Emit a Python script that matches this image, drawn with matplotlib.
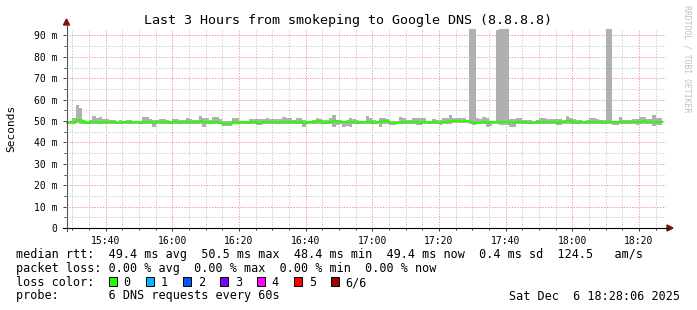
import numpy as np
import matplotlib
matplotlib.use("Agg")
import matplotlib.pyplot as plt
from matplotlib.patches import Rectangle, Polygon
from matplotlib.lines import Line2D

plt.rcParams['font.family'] = ['DejaVu Sans Mono']

W, H = 697, 310

# one value per minute, minute 0 = 15:28
median_ms = [
    49.4, 49.4, 49.6, 50.4, 50.3, 49.5, 49.3, 49.4, 49.5, 49.4,
    49.3, 49.4, 49.4, 49.5, 49.4, 49.3, 49.3, 49.4, 49.4, 49.6,
    49.5, 49.4, 49.3, 49.5, 49.5, 49.4, 49.3, 49.4, 49.4, 49.5,
    49.4, 49.3, 49.4, 49.4, 49.3, 49.4, 49.5, 49.6, 49.4, 49.5,
    49.8, 49.7, 49.4, 49.3, 49.4, 49.4, 49.3, 48.7, 48.6, 48.8,
    49.4, 49.3, 49.4, 49.4, 49.3, 49.4, 49.5, 49.3, 49.2, 49.4,
    49.5, 49.4, 49.5, 49.3, 49.4, 49.4, 49.6, 49.5, 49.4, 49.3,
    49.4, 49.3, 49.4, 49.4, 49.5, 50.2, 49.8, 49.3, 49.2, 49.4,
    50.1, 50.2, 49.4, 49.4, 49.5, 49.4, 49.4, 49.3, 49.5, 49.4,
    49.5, 49.4, 49.3, 49.4, 49.6, 50.2, 49.9, 49.0, 48.9, 49.0,
    49.3, 49.4, 49.5, 49.4, 49.6, 49.4, 49.3, 49.5, 49.4, 49.3,
    49.4, 49.3, 49.3, 49.5, 49.6, 50.0, 50.1, 50.1, 50.0, 50.0,
    50.0, 49.4, 49.3, 49.2, 49.3, 49.4, 49.3, 49.4, 49.5, 49.4,
    49.5, 49.4, 49.5, 49.3, 49.2, 49.4, 49.6, 49.4, 49.3, 49.2,
    49.3, 49.4, 49.6, 49.7, 49.5, 49.4, 49.4, 49.3, 49.4, 49.5,
    50.2, 49.9, 49.4, 49.3, 49.4, 49.4, 49.5, 49.6, 49.5, 49.4,
    49.4, 49.3, 49.4, 49.5, 49.4, 49.4, 49.5, 49.7, 49.5, 49.4,
    49.6, 49.4, 49.5, 49.8, 49.5, 49.6, 49.4, 49.5, 49.4,
]
high_ms = [
    50.2, 50.1, 51.2, 57.4, 56.0, 50.3, 50.1, 50.5, 52.2, 51.4,
    51.9, 51.0, 51.0, 50.5, 50.5, 50.2, 50.3, 50.2, 50.3, 50.5,
    50.2, 50.1, 50.2, 51.9, 51.9, 50.9, 50.4, 50.3, 51.1, 50.9,
    50.3, 50.2, 50.9, 50.9, 50.5, 50.3, 51.2, 51.0, 50.4, 50.6,
    52.3, 51.2, 51.2, 50.4, 51.9, 51.9, 50.9, 49.8, 50.0, 50.1,
    51.4, 51.4, 50.2, 50.1, 50.2, 50.9, 50.9, 50.9, 50.9, 50.9,
    51.2, 50.9, 50.9, 50.9, 50.9, 51.9, 51.2, 51.2, 50.3, 51.5,
    51.5, 50.3, 50.1, 50.2, 50.4, 51.5, 50.9, 50.3, 50.4, 51.2,
    53.0, 50.6, 50.3, 50.2, 50.3, 51.5, 51.0, 50.4, 50.2, 50.1,
    52.3, 51.2, 50.3, 50.2, 51.2, 51.5, 50.9, 50.0, 49.9, 50.2,
    51.9, 51.5, 50.4, 50.3, 51.2, 51.2, 51.2, 51.2, 50.1, 50.2,
    50.9, 50.6, 50.3, 51.5, 51.5, 52.7, 51.5, 51.5, 51.5, 51.2,
    50.5, 93.5, 93.5, 51.2, 50.8, 51.9, 51.2, 50.2, 50.1, 92.7,
    93.5, 93.5, 93.5, 50.9, 50.9, 51.2, 51.2, 50.7, 50.7, 50.3,
    50.2, 50.4, 51.2, 51.2, 50.9, 50.9, 50.9, 50.9, 50.9, 50.3,
    52.3, 51.5, 50.9, 50.4, 50.3, 50.2, 50.3, 51.2, 51.2, 50.9,
    50.5, 50.4, 93.5, 93.5, 50.1, 50.1, 51.9, 50.7, 50.7, 50.7,
    50.9, 50.9, 51.9, 51.9, 50.9, 50.9, 52.7, 51.5, 51.5,
]
low_ms = [
    48.8, 48.7, 48.6, 48.9, 48.8, 48.5, 48.6, 48.7, 48.7, 48.6,
    48.5, 48.7, 48.6, 48.7, 48.8, 48.7, 48.7, 48.6, 48.8, 48.7,
    48.6, 48.8, 48.7, 48.6, 48.5, 48.4, 47.3, 48.6, 48.5, 48.4,
    48.7, 48.6, 48.6, 48.5, 48.7, 48.8, 48.6, 48.6, 48.5, 48.4,
    48.6, 47.3, 48.4, 48.7, 48.6, 48.6, 48.5, 47.9, 47.6, 47.8,
    48.5, 48.6, 48.6, 48.7, 48.7, 48.6, 48.5, 48.2, 48.1, 48.4,
    48.6, 48.5, 48.6, 48.6, 48.7, 48.5, 48.6, 48.5, 48.7, 48.4,
    48.5, 47.3, 48.6, 48.7, 48.6, 48.4, 48.5, 48.6, 48.5, 48.6,
    47.2, 48.3, 48.6, 47.3, 47.5, 47.3, 48.5, 48.7, 48.6, 48.6,
    48.5, 48.6, 48.7, 48.6, 47.3, 48.5, 48.5, 48.3, 48.2, 48.4,
    48.6, 48.5, 48.7, 48.6, 48.5, 48.1, 48.1, 48.6, 48.6, 48.7,
    48.6, 48.5, 48.1, 48.6, 48.5, 48.7, 48.9, 48.9, 48.9, 48.9,
    48.9, 48.7, 48.3, 48.5, 48.4, 48.6, 47.3, 47.5, 48.6, 48.4,
    48.3, 48.2, 48.0, 47.3, 47.3, 48.6, 48.5, 48.8, 48.7, 48.7,
    48.6, 48.7, 48.8, 48.5, 48.6, 48.6, 48.7, 48.3, 48.3, 48.7,
    48.6, 48.7, 48.6, 48.7, 48.6, 48.7, 48.6, 48.6, 48.7, 48.6,
    48.7, 48.8, 48.5, 48.4, 48.1, 48.1, 48.6, 48.6, 48.7, 48.6,
    48.5, 48.3, 48.6, 48.7, 48.5, 48.5, 47.6, 48.1, 48.1,
]

time_ticks = [12, 32, 52, 72, 92, 112, 132, 152, 172]
time_labels = ["15:40", "16:00", "16:20", "16:40", "17:00",
               "17:20", "17:40", "18:00", "18:20"]
y_ticks = [0, 10, 20, 30, 40, 50, 60, 70, 80, 90]
y_labels = ["0", "10 m", "20 m", "30 m", "40 m", "50 m",
            "60 m", "70 m", "80 m", "90 m"]

loss_labels = ["0", "1", "2", "3", "4", "5", "6/6"]
loss_colors = ["#26ff00", "#00b8ff", "#0059ff", "#7e00ff",
               "#ff00ff", "#ff0000", "#a10000"]


def fx(x):
    return x / W


def fy(y):
    return 1 - y / H


fig = plt.figure(figsize=(W / 100, H / 100), dpi=100)
fig.patch.set_facecolor("white")
ax = fig.add_axes([fx(66), fy(228), fx(666) - fx(66), fy(29) - fy(228)])
ax.set_facecolor("white")

n = len(median_ms)
xs = np.arange(n + 1)
med = np.append(median_ms, median_ms[-1])
hi = np.append(high_ms, high_ms[-1])
lo = np.append(low_ms, low_ms[-1])

# smoke, then median line
ax.fill_between(xs, lo, hi, step="post", color="#b0b0b0", lw=0, zorder=2)
ax.step(xs, med, where="post", color="#26ff00", lw=1.5, zorder=3)

ax.set_xlim(0.1, 180.1)
ax.set_ylim(0, 93)

# grid: gray every 5 min / 5 m, red at labels
dot = (0, (1.4, 1.4))
for m in range(2, 180, 5):
    c = "#f0a0a0" if m in time_ticks else "#cfcfcf"
    ax.axvline(m, color=c, lw=0.72, ls=dot, zorder=1)
for v in range(5, 93, 5):
    c = "#f0a0a0" if v % 10 == 0 else "#cfcfcf"
    ax.axhline(v, color=c, lw=0.72, ls=dot, zorder=1)

ax.set_xticks(time_ticks)
ax.set_xticklabels(time_labels)
ax.set_xticks(range(2, 180, 5), minor=True)
ax.set_yticks(y_ticks)
ax.set_yticklabels(y_labels)
ax.set_yticks(range(5, 93, 10), minor=True)
ax.tick_params(axis="both", which="major", labelsize=7, color="#404040",
               direction="out", length=2.5, width=0.72)
ax.tick_params(axis="both", which="minor", color="#404040",
               direction="out", length=1.5, width=0.72)
ax.tick_params(axis="y", pad=3.6)
ax.tick_params(axis="x", pad=3.2)
for s in ax.spines.values():
    s.set_visible(False)

# axis lines with arrows
fig.add_artist(Line2D([fx(63), fx(668)], [fy(228), fy(228)], color="black",
                      lw=0.8))
fig.add_artist(Line2D([fx(66.5), fx(66.5)], [fy(231), fy(24)], color="#505050",
                      lw=0.8))
fig.add_artist(Polygon([(fx(667), fy(225)), (fx(673), fy(228)), (fx(667), fy(231))],
                       closed=True, color="#7f1010", transform=fig.transFigure))
fig.add_artist(Polygon([(fx(63.5), fy(25)), (fx(66.5), fy(19)), (fx(69.5), fy(25))],
                       closed=True, color="#7f1010", transform=fig.transFigure))

fig.text(0.5, fy(24), "Last 3 Hours from smokeping to Google DNS (8.8.8.8)",
         ha="center", va="baseline", fontsize=9.6)
fig.text(fx(11), fy(128), "Seconds", rotation=90, ha="center", va="center",
         fontsize=8)
fig.text(fx(687), fy(59), "RRDTOOL / TOBI OETIKER", rotation=270,
         ha="center", va="center", fontsize=5.9, color="#c0c0c0")

fs = 8.5
fig.text(fx(16), fy(258), "median rtt:  49.4 ms avg  50.5 ms max  48.4 ms min"
         "  49.4 ms now  0.4 ms sd  124.5   am/s", va="baseline", fontsize=fs)
fig.text(fx(16), fy(272), "packet loss: 0.00 % avg  0.00 % max  0.00 % min"
         "  0.00 % now", va="baseline", fontsize=fs)
fig.text(fx(16), fy(286), "loss color:", va="baseline", fontsize=fs)
for i, (lab, col) in enumerate(zip(loss_labels, loss_colors)):
    bx = 108.7 + 37 * i
    fig.add_artist(Rectangle((fx(bx), fy(286)), 8.5 / W, 9.5 / H,
                             facecolor=col, edgecolor="black", lw=0.7,
                             transform=fig.transFigure))
    fig.text(fx(bx + 15), fy(286), lab, va="baseline", fontsize=fs)
fig.text(fx(16), fy(299.5), "probe:       6 DNS requests every 60s",
         va="baseline", fontsize=fs)
fig.text(fx(680), fy(299.5), "Sat Dec  6 18:28:06 2025", ha="right",
         va="baseline", fontsize=fs)

fig.savefig("out.png", dpi=100)
